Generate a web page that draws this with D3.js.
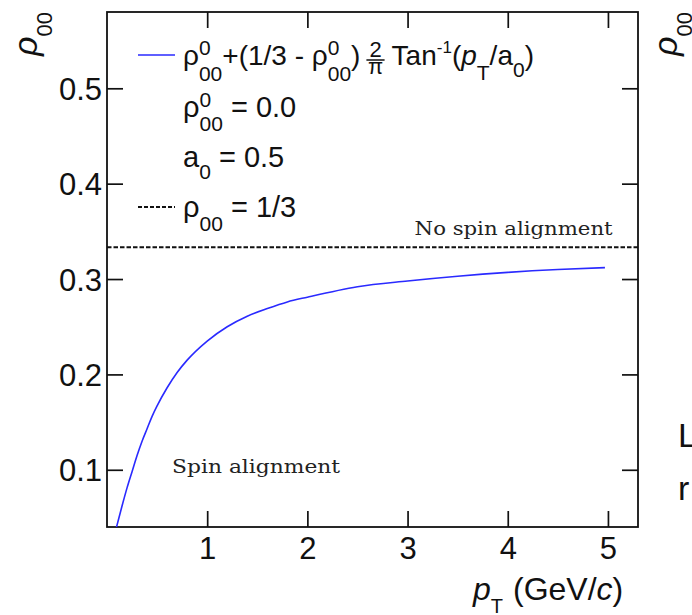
<!DOCTYPE html>
<html>
<head>
<script src="https://d3js.org/d3.v7.min.js"></script>
<style>
  body { margin: 0; background: #fff; }
  text { font-family: "Liberation Sans", Arial, Helvetica, sans-serif; fill: #111; white-space: pre; }
  .serif { font-family: "DejaVu Serif", "Liberation Serif", serif; fill: #222; }
</style>
</head>
<body>
<div id="chart"></div>
<script>
// points (pT in GeV/c, rho00)
var pT  = [0.08, 0.10, 0.15, 0.20, 0.25, 0.30, 0.35, 0.40, 0.45, 0.50, 0.60, 0.70, 0.80, 1.00,
           1.20, 1.40, 1.60, 1.80, 2.00, 2.50, 3.00, 3.50, 4.00, 4.50, 4.97];
var rho = [0.034, 0.042, 0.062, 0.081, 0.098, 0.115, 0.130, 0.143, 0.156, 0.167, 0.186, 0.202, 0.215, 0.235,
           0.250, 0.261, 0.269, 0.276, 0.281, 0.292, 0.298, 0.303, 0.307, 0.310, 0.312];
var noAlignment = 1 / 3;

var xTicks = [1, 2, 3, 4, 5];
var xTickLabels = ["1", "2", "3", "4", "5"];
var yTicks = [0.1, 0.2, 0.3, 0.4, 0.5];
var yTickLabels = ["0.1", "0.2", "0.3", "0.4", "0.5"];

var W = 692, H = 615;
var frame = { left: 107, right: 638, top: 12, bottom: 527 };
var tickLen = 16;
var ink = "#111";

var svg = d3.select("#chart").append("svg")
    .attr("width", W)
    .attr("height", H);

var x = d3.scaleLinear().domain([0, 5.3]).range([frame.left, frame.right]);
var y = d3.scaleLinear().domain([0.04, 0.58]).range([frame.bottom, frame.top]);

// lay out a run of text pieces (sub/superscripts, fractions) left to right
function rich(g, x0, y0, parts, size) {
    var cx = x0, held = 0;
    parts.forEach(function (p) {
        var s = p.s || size;
        if (p.gap) { cx += p.gap; return; }
        if (p.frac) {
            var num = g.append("text").attr("y", y0 - 8).attr("text-anchor", "middle")
                .style("font-size", s + "px").text(p.frac[0]);
            var den = g.append("text").attr("y", y0 + 9).attr("text-anchor", "middle")
                .style("font-size", s + "px").text(p.frac[1]);
            var fw = Math.max(num.node().getComputedTextLength(), den.node().getComputedTextLength()) + 3;
            num.attr("x", cx + fw / 2);
            den.attr("x", cx + fw / 2);
            g.append("line")
                .attr("x1", cx).attr("x2", cx + fw)
                .attr("y1", y0 - 5).attr("y2", y0 - 5)
                .attr("stroke", ink).attr("stroke-width", 1.5);
            cx += fw;
            return;
        }
        var t = g.append("text")
            .attr("x", cx)
            .attr("y", y0 + (p.dy || 0))
            .style("font-size", s + "px")
            .text(p.t);
        if (p.it) t.style("font-style", "italic");
        var w = t.node().getComputedTextLength();
        if (p.over) { held = w; return; }
        cx += Math.max(w, held);
        held = 0;
    });
    return cx;
}

// frame
svg.append("rect")
    .attr("x", frame.left).attr("y", frame.top)
    .attr("width", frame.right - frame.left)
    .attr("height", frame.bottom - frame.top)
    .attr("fill", "none")
    .attr("stroke", ink)
    .attr("stroke-width", 1.8);

// axes, ticks pointing inwards
function styleAxis(g) {
    g.select(".domain").remove();
    g.selectAll("line").attr("stroke", ink).attr("stroke-width", 1.7);
    g.selectAll("text")
        .style("font-size", "31px")
        .style("font-family", "'Liberation Sans', Arial, sans-serif")
        .attr("fill", ink);
}

svg.append("g")
    .attr("transform", "translate(0," + frame.bottom + ")")
    .call(d3.axisBottom(x).tickValues(xTicks)
        .tickFormat(function (d, i) { return xTickLabels[i]; })
        .tickSize(-tickLen).tickSizeOuter(0).tickPadding(10))
    .call(styleAxis);

svg.append("g")
    .attr("transform", "translate(0," + frame.top + ")")
    .call(d3.axisTop(x).tickValues(xTicks).tickFormat("")
        .tickSize(-tickLen).tickSizeOuter(0))
    .call(styleAxis);

var yAxisG = svg.append("g")
    .attr("transform", "translate(" + frame.left + ",0)")
    .call(d3.axisLeft(y).tickValues(yTicks)
        .tickFormat(function (d, i) { return yTickLabels[i]; })
        .tickSize(-tickLen).tickSizeOuter(0).tickPadding(5))
    .call(styleAxis);
yAxisG.selectAll("text").attr("dy", "0.36em");

svg.append("g")
    .attr("transform", "translate(" + frame.right + ",0)")
    .call(d3.axisRight(y).tickValues(yTicks).tickFormat("")
        .tickSize(-tickLen).tickSizeOuter(0))
    .call(styleAxis);

// clip for the curve
svg.append("clipPath").attr("id", "plotArea")
    .append("rect")
    .attr("x", frame.left).attr("y", frame.top)
    .attr("width", frame.right - frame.left)
    .attr("height", frame.bottom - frame.top);

// rho00 = 1/3 line
svg.append("line")
    .attr("x1", x(0)).attr("x2", x(5.3))
    .attr("y1", y(noAlignment)).attr("y2", y(noAlignment))
    .attr("stroke", ink)
    .attr("stroke-width", 2)
    .attr("stroke-dasharray", "4.5,2");

// the arctan curve
var curve = pT.map(function (d, i) { return [d, rho[i]]; });
svg.append("path")
    .datum(curve)
    .attr("clip-path", "url(#plotArea)")
    .attr("fill", "none")
    .attr("stroke", "#2a2aff")
    .attr("stroke-width", 1.6)
    .attr("d", d3.line()
        .x(function (d) { return x(d[0]); })
        .y(function (d) { return y(d[1]); })
        .curve(d3.curveMonotoneX));

// annotations
svg.append("text")
    .attr("class", "serif")
    .attr("x", x(3.07))
    .attr("y", y(noAlignment) - 12)
    .attr("textLength", 198)
    .attr("lengthAdjust", "spacingAndGlyphs")
    .style("font-size", "18px")
    .text("No spin alignment");

svg.append("text")
    .attr("class", "serif")
    .attr("x", x(0.65))
    .attr("y", y(0.1) + 3)
    .attr("textLength", 168)
    .attr("lengthAdjust", "spacingAndGlyphs")
    .style("font-size", "18px")
    .text("Spin alignment");

// legend
var leg = svg.append("g");
var legX = 183, legY = [65, 117, 167, 217];

leg.append("line")
    .attr("x1", 138).attr("x2", 175)
    .attr("y1", 55).attr("y2", 55)
    .attr("stroke", "#2a2aff").attr("stroke-width", 1.6);
rich(leg, legX, legY[0], [
    { t: "ρ" }, { t: "0", s: 21, dy: -10, over: true }, { t: "00", s: 21, dy: 16 },
    { t: "+(1/3 - ρ" }, { t: "0", s: 21, dy: -10, over: true }, { t: "00", s: 21, dy: 16 },
    { t: ")" }, { gap: 6 }, { frac: ["2", "π"], s: 22 }, { gap: 7 },
    { t: "Tan" }, { t: "-1", s: 17, dy: -12 }, { t: "(" }, { t: "p", it: true },
    { t: "T", s: 21, dy: 15 }, { t: "/a" }, { t: "0", s: 21, dy: 12 }, { t: ")" }
], 28);

rich(leg, legX, legY[1], [
    { t: "ρ" }, { t: "0", s: 21, dy: -10, over: true }, { t: "00", s: 21, dy: 14 },
    { t: " = 0.0" }
], 29);

rich(leg, legX, legY[2], [
    { t: "a" }, { t: "0", s: 21, dy: 12 }, { t: " = 0.5" }
], 29);

leg.append("line")
    .attr("x1", 138).attr("x2", 175)
    .attr("y1", 207).attr("y2", 207)
    .attr("stroke", ink).attr("stroke-width", 2)
    .attr("stroke-dasharray", "4,2");
rich(leg, legX, legY[3], [
    { t: "ρ" }, { t: "00", s: 21, dy: 14 }, { t: " = 1/3" }
], 29);

// x axis title
rich(svg, 473, 600, [
    { t: "p", it: true }, { t: "T", s: 20, dy: 13 }, { gap: 10 },
    { t: "(GeV/" }, { t: "c", it: true }, { t: ")" }
], 32);

// y axis title (rotated), plus the cut-off one of the next panel
function yTitle(tx) {
    var g = svg.append("g");
    var end = rich(g, 0, 0, [{ t: "ρ", s: 34, it: true }, { t: "00", s: 22, dy: 15 }], 34);
    g.attr("transform", "translate(" + tx + ",12) rotate(-90) translate(" + (-end) + ",0)");
}
yTitle(37);
yTitle(677);

// slide text fragments at the right edge
svg.append("text").attr("x", 678).attr("y", 447).style("font-size", "34px").text("L");
svg.append("text").attr("x", 678).attr("y", 500).style("font-size", "34px").text("r");
</script>
</body>
</html>
